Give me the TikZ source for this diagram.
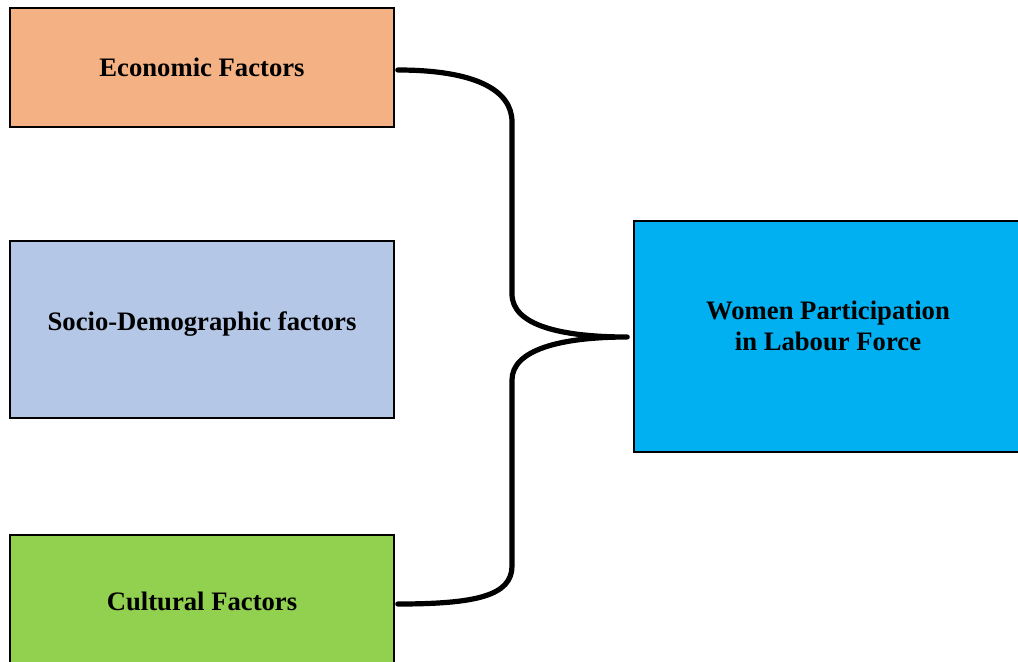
\documentclass[tikz,border=0pt]{standalone}
\usepackage{fontspec}
\setmainfont{Liberation Serif}
\usetikzlibrary{calc}
\definecolor{econ}{HTML}{F4B183}
\definecolor{socio}{HTML}{B4C7E7}
\definecolor{cult}{HTML}{92D050}
\definecolor{women}{HTML}{00B0F0}
\begin{document}
\begin{tikzpicture}[x=0.75pt,y=-0.75pt,
  box/.style={draw=black, line width=1.2pt, rectangle, inner sep=0pt, font=\fontsize{20}{23.25}\selectfont\bfseries, align=center},
  lbl/.style={font=\fontsize{20}{23.25}\selectfont\bfseries, align=center},
  brace/.style={draw=black, line width=3.9pt, line cap=round, line join=round}]
\clip (0,0) rectangle (1018,661);
\useasboundingbox (0,0) rectangle (1018,661);
\node[box, fill=econ, minimum width=384*0.75pt, minimum height=119*0.75pt] (econ) at (202,67.5) {};
\node[lbl] (econt) at (202,67) {Economic Factors};
\node[box, fill=socio, minimum width=384*0.75pt, minimum height=177*0.75pt] (socio) at (202,329.5) {};
\node[lbl] (sociot) at (202,324.5) {Socio-Demographic factors};
\node[box, fill=cult, minimum width=384*0.75pt, minimum height=140*0.75pt] (cult) at (202,605) {};
\node[lbl] (cultt) at (202,601) {Cultural Factors};
\node[box, fill=women, minimum width=400*0.75pt, minimum height=231*0.75pt] (women) at (834,336.5) {};
\node[lbl] (womant) at (828,326) {Women Participation\\in Labour Force};
\coordinate (s1) at ($(econ.east)+(3,2.5)$);
\coordinate (s2) at ($(cult.east)+(3,-1)$);
\coordinate (tip) at ($(women.west)+(-6,0.5)$);
\draw[brace] (s1) .. controls (475,70) and (512,90) .. (512,122) -- (512,294)
  .. controls (512,325) and (560,337) .. (tip)
  .. controls (560,337) and (512,350) .. (512,380) -- (512,566)
  .. controls (512,596) and (475,604) .. (s2);
\end{tikzpicture}
\end{document}
